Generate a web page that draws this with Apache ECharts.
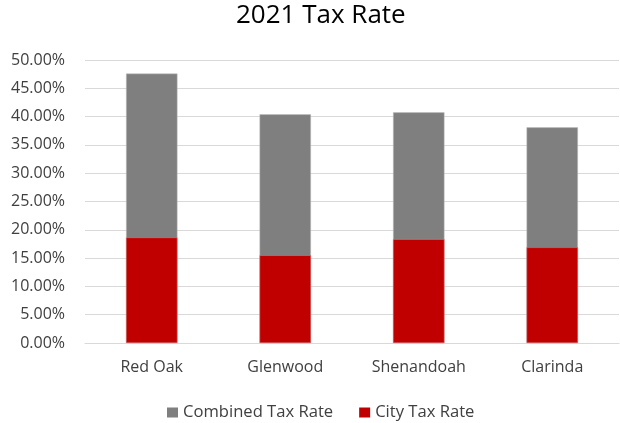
<!DOCTYPE html>
<html>
<head>
<meta charset="utf-8">
<script src="https://cdn.jsdelivr.net/npm/echarts@6/dist/echarts.min.js"></script>
<style>
  html, body { margin: 0; padding: 0; background: #fff; }
  #chart { width: 620px; height: 423px; }
</style>
</head>
<body>
<div id="chart"></div>
<script>
// Cities and their rates (percent)
const cities = ['Red Oak', 'Glenwood', 'Shenandoah', 'Clarinda'];
const combinedRate = [47.6, 40.4, 40.75, 38.1];
const cityRate = [18.65, 15.5, 18.35, 16.9];
const yTicks = [0, 5, 10, 15, 20, 25, 30, 35, 40, 45, 50];

const font = '"Open Sans", "Liberation Sans", sans-serif';

const chart = echarts.init(document.getElementById('chart'), null, { renderer: 'canvas' });
chart.setOption({
  animation: false,
  backgroundColor: '#ffffff',
  title: {
    text: '2021 Tax Rate',
    left: 236,
    top: 3,
    padding: 0,
    textStyle: { fontFamily: font, fontSize: 26, fontWeight: 'normal', color: '#000000' }
  },
  legend: {
    top: 404,
    left: 167,
    padding: 0,
    itemWidth: 11,
    itemHeight: 10,
    itemGap: 26,
    icon: 'rect',
    itemStyle: { borderWidth: 0 },
    textStyle: { fontFamily: font, fontSize: 16.6, color: '#404040' },
    data: ['Combined Tax Rate', 'City Tax Rate']
  },
  grid: { left: 85, right: 1, top: 60, bottom: 80 },
  xAxis: {
    type: 'category',
    data: cities,
    axisLine: { lineStyle: { color: '#d9d9d9', width: 1 } },
    axisTick: { show: false },
    axisLabel: { fontFamily: font, fontSize: 16, color: '#404040', margin: 16 }
  },
  yAxis: {
    type: 'value',
    min: yTicks[0],
    max: yTicks[yTicks.length - 1],
    interval: yTicks[1] - yTicks[0],
    axisLine: { show: false },
    axisTick: { show: false },
    splitLine: { lineStyle: { color: '#d9d9d9', width: 1 } },
    axisLabel: {
      fontFamily: font, fontSize: 16, color: '#404040', margin: 20,
      formatter: v => v.toFixed(2) + '%'
    }
  },
  series: [
    {
      name: 'Combined Tax Rate',
      type: 'bar',
      data: combinedRate,
      barWidth: '38.5%',
      barGap: '-100%',
      itemStyle: { color: '#7f7f7f', borderColor: '#bfbfbf', borderWidth: 0.5 }
    },
    {
      name: 'City Tax Rate',
      type: 'bar',
      data: cityRate,
      barWidth: '38.5%',
      itemStyle: { color: '#c00000', borderColor: '#e08080', borderWidth: 0.5 }
    }
  ]
});
</script>
</body>
</html>
